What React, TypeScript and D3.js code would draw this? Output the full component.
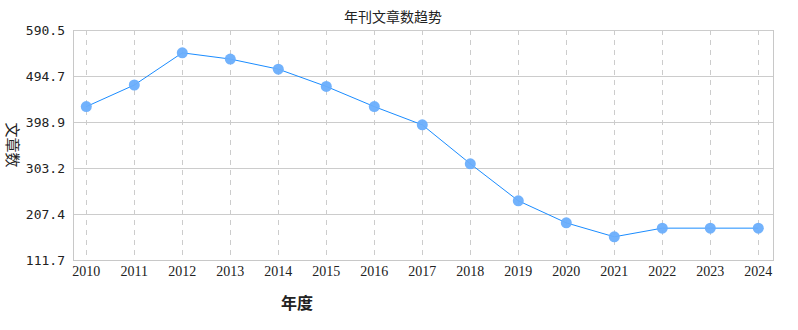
import * as d3 from "d3";
import React from "react";

const years = ["2010", "2011", "2012", "2013", "2014", "2015", "2016", "2017", "2018", "2019", "2020", "2021", "2022", "2023", "2024"];
const counts = [431, 476, 543, 530, 509, 473, 431, 393, 312, 235, 189, 160, 178, 178, 178];
const yTicks = [111.7, 207.4, 303.2, 398.9, 494.7, 590.5];

export default function App() {
  const ref = React.useRef<SVGSVGElement>(null);

  React.useEffect(() => {
    if (!ref.current) return;
    const svg = d3.select(ref.current);
    svg.selectAll("*").remove();

    // plot frame
    const left = 73, right = 773, top = 30, bottom = 260;

    const x = d3.scalePoint<string>().domain(years).range([86.3, 758.3]);
    const y = d3.scaleLinear().domain([111.7, 590.5]).range([bottom, top]);

    const grid = svg.append("g");
    // horizontal grid
    grid
      .selectAll("line.h")
      .data(yTicks)
      .enter()
      .append("line")
      .attr("x1", left)
      .attr("x2", right)
      .attr("y1", (d) => Math.round(y(d)) + 0.5)
      .attr("y2", (d) => Math.round(y(d)) + 0.5)
      .attr("stroke", "#cccccc")
      .attr("stroke-width", 1);
    // vertical dashed grid
    grid
      .selectAll("line.v")
      .data(years)
      .enter()
      .append("line")
      .attr("x1", (d) => Math.round(x(d)!) + 0.5)
      .attr("x2", (d) => Math.round(x(d)!) + 0.5)
      .attr("y1", top)
      .attr("y2", bottom)
      .attr("stroke", "#cccccc")
      .attr("stroke-dasharray", "5,5")
      .attr("stroke-width", 1);

    // axis lines
    svg.append("line").attr("x1", left + 0.5).attr("x2", left + 0.5).attr("y1", top).attr("y2", bottom + 0.5).attr("stroke", "#c8c8c8");
    svg.append("line").attr("x1", right + 0.5).attr("x2", right + 0.5).attr("y1", top).attr("y2", bottom + 0.5).attr("stroke", "#c8c8c8");
    svg.append("line").attr("x1", left).attr("x2", right + 1).attr("y1", bottom + 0.5).attr("y2", bottom + 0.5).attr("stroke", "#c8c8c8");

    // y tick labels
    svg
      .selectAll("text.yt")
      .data(yTicks)
      .enter()
      .append("text")
      .attr("x", 65)
      .attr("y", (d) => y(d))
      .attr("dy", "0.35em")
      .attr("text-anchor", "end")
      .attr("font-family", "DejaVu Sans Mono")
      .attr("font-size", 13)
      .attr("fill", "#222")
      .text((d) => d.toFixed(1));

    // x tick labels
    svg
      .selectAll("text.xt")
      .data(years)
      .enter()
      .append("text")
      .attr("x", (d) => x(d)!)
      .attr("y", 271)
      .attr("dy", "0.35em")
      .attr("text-anchor", "middle")
      .attr("font-family", "Liberation Serif")
      .attr("font-size", 14)
      .attr("fill", "#222")
      .text((d) => d);

    // line
    const line = d3
      .line<number>()
      .x((_, i) => x(years[i])!)
      .y((d) => y(d));
    svg
      .append("path")
      .datum(counts)
      .attr("fill", "none")
      .attr("stroke", "#1a8cff")
      .attr("stroke-width", 1)
      .attr("d", line);

    // points
    svg
      .selectAll("circle")
      .data(counts)
      .enter()
      .append("circle")
      .attr("cx", (_, i) => x(years[i])!)
      .attr("cy", (d) => y(d))
      .attr("r", 5.5)
      .attr("fill", "#6aaefc")
      .attr("fill-opacity", 0.95);

    // title and axis labels
    svg
      .append("text")
      .attr("x", 393)
      .attr("y", 17)
      .attr("dy", "0.35em")
      .attr("text-anchor", "middle")
      .attr("font-family", "Noto Sans CJK SC")
      .attr("font-size", 14)
      .attr("fill", "#222")
      .text("年刊文章数趋势");

    svg
      .append("text")
      .attr("transform", "translate(12,145) rotate(90)")
      .attr("dy", "0.35em")
      .attr("text-anchor", "middle")
      .attr("font-family", "Noto Sans CJK SC")
      .attr("font-size", 15)
      .attr("fill", "#222")
      .text("文章数");

    svg
      .append("text")
      .attr("x", 297)
      .attr("y", 303)
      .attr("dy", "0.35em")
      .attr("text-anchor", "middle")
      .attr("font-family", "Noto Sans CJK SC")
      .attr("font-size", 16)
      .attr("font-weight", "bold")
      .attr("fill", "#222")
      .text("年度");

    return () => {
      svg.selectAll("*").remove();
    };
  }, []);

  return (
    <div style={{ position: "absolute", left: 0, top: 0 }}>
      <svg ref={ref} width={798} height={330} style={{ display: "block", background: "#fff" }} />
    </div>
  );
}
